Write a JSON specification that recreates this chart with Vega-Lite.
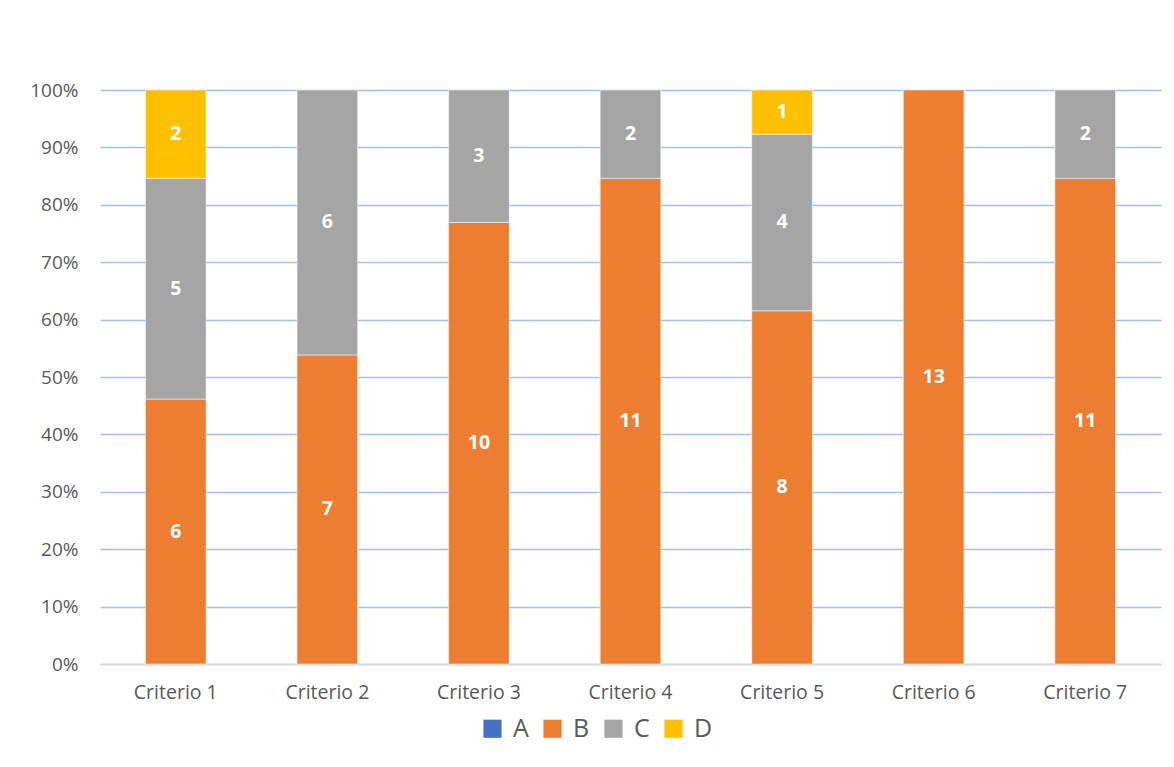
{
  "$schema": "https://vega.github.io/schema/vega-lite/v6.json",
  "width": 1061,
  "height": 574,
  "autosize": {"type": "none"},
  "padding": {"left": 100, "top": 90, "right": 13, "bottom": 103},
  "background": "white",
  "config": {"view": {"stroke": null}, "font": "Open Sans"},
  "data": {
    "values": [
      {"criterio": "Criterio 1", "cat": "B", "n": 6},
      {"criterio": "Criterio 1", "cat": "C", "n": 5},
      {"criterio": "Criterio 1", "cat": "D", "n": 2},
      {"criterio": "Criterio 2", "cat": "B", "n": 7},
      {"criterio": "Criterio 2", "cat": "C", "n": 6},
      {"criterio": "Criterio 3", "cat": "B", "n": 10},
      {"criterio": "Criterio 3", "cat": "C", "n": 3},
      {"criterio": "Criterio 4", "cat": "B", "n": 11},
      {"criterio": "Criterio 4", "cat": "C", "n": 2},
      {"criterio": "Criterio 5", "cat": "B", "n": 8},
      {"criterio": "Criterio 5", "cat": "C", "n": 4},
      {"criterio": "Criterio 5", "cat": "D", "n": 1},
      {"criterio": "Criterio 6", "cat": "B", "n": 13},
      {"criterio": "Criterio 7", "cat": "B", "n": 11},
      {"criterio": "Criterio 7", "cat": "C", "n": 2}
    ]
  },
  "transform": [
    {"stack": "n", "groupby": ["criterio"], "sort": [{"field": "cat", "order": "ascending"}], "offset": "normalize", "as": ["y0", "y1"]},
    {"calculate": "(datum.y0 + datum.y1) / 2", "as": "ymid"}
  ],
  "encoding": {
    "x": {
      "field": "criterio",
      "type": "nominal",
      "scale": {"paddingInner": 0.6, "paddingOuter": 0.3},
      "axis": {
        "title": null,
        "labelAngle": 0,
        "labelFontSize": 19.5,
        "labelColor": "#595959",
        "labelPadding": 19,
        "ticks": false,
        "domainColor": "#D9D9D9",
        "domainWidth": 1.5
      }
    }
  },
  "layer": [
    {
      "mark": {"type": "bar", "stroke": "white", "strokeWidth": 0.5},
      "encoding": {
        "y": {
          "field": "y0",
          "type": "quantitative",
          "scale": {"domain": [0, 1]},
          "axis": {
            "title": null,
            "format": "%",
            "values": [0, 0.1, 0.2, 0.3, 0.4, 0.5, 0.6, 0.7, 0.8, 0.9, 1],
            "labelOverlap": false,
            "labelFontSize": 19,
            "labelColor": "#595959",
            "labelPadding": 22,
            "ticks": false,
            "domain": false,
            "gridColor": "#A9C0E6",
            "gridWidth": 1.5
          }
        },
        "y2": {"field": "y1"},
        "color": {
          "field": "cat",
          "type": "nominal",
          "scale": {"domain": ["A", "B", "C", "D"], "range": ["#4472C4", "#ED7D31", "#A5A5A5", "#FFC000"]},
          "legend": {
            "title": null,
            "orient": "none",
            "direction": "horizontal",
            "legendX": 380,
            "legendY": 626,
            "symbolType": "square",
            "symbolSize": 330,
            "symbolStrokeWidth": 0,
            "labelFontSize": 25,
            "labelColor": "#595959",
            "columnPadding": 11,
            "labelOffset": 8
          }
        }
      }
    },
    {
      "mark": {"type": "text", "color": "white", "fontWeight": "bold", "fontSize": 19.5, "baseline": "middle"},
      "encoding": {
        "y": {
          "field": "ymid",
          "type": "quantitative",
          "axis": {
            "title": null,
            "format": "%",
            "values": [0, 0.1, 0.2, 0.3, 0.4, 0.5, 0.6, 0.7, 0.8, 0.9, 1],
            "labelOverlap": false,
            "labelFontSize": 19,
            "labelColor": "#595959",
            "labelPadding": 22,
            "ticks": false,
            "domain": false,
            "gridColor": "#A9C0E6",
            "gridWidth": 1.5
          }
        },
        "text": {"field": "n", "type": "quantitative"}
      }
    }
  ]
}
